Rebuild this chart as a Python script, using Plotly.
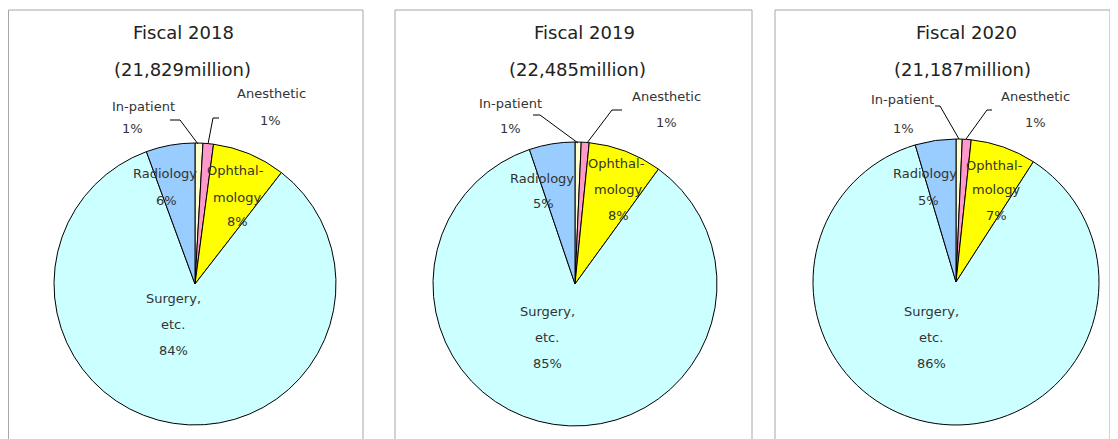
import plotly.graph_objects as go

# The page has an 8px body margin, so the figure is 1110x431 and positions are given in page pixels
OFF = 8
W, H = 1110, 431

categories = ["In-patient", "Anesthetic", "Ophthalmology", "Surgery, etc.", "Radiology"]
years = ["Fiscal 2018", "Fiscal 2019", "Fiscal 2020"]
totals = ["(21,829million)", "(22,485million)", "(21,187million)"]
values_2018 = [0.9, 1.2, 8.4, 83.9, 5.6]
values_2019 = [0.7, 0.9, 8.4, 84.8, 5.2]
values_2020 = [0.7, 1.0, 7.4, 86.3, 4.6]
all_values = [values_2018, values_2019, values_2020]
colors = ["#FFFFCC", "#FF99CC", "#FFFF00", "#CCFFFF", "#99CCFF"]


def px(x):
    return (x - OFF) / W


def py(y):
    return 1 - (y - OFF) / H


# pie geometry (page pixels)
pies = [dict(cx=195, cy=284, r=141), dict(cx=575, cy=284, r=142), dict(cx=956, cy=282, r=143)]
panels = [(8.5, 363), (395, 752), (775, 1110)]
title_x = [183, 584, 967]
total_x = [182, 577, 962]

label_pos = [
    dict(inp=(143, 107, 132, 128), ane=(271, 93, 270, 120), rad=(165, 173, 166, 201),
         oph=(237, 170, 197, 221), sur=(173, 298)),
    dict(inp=(510, 103, 510, 128), ane=(666, 96, 666, 122), rad=(542, 178, 543, 203),
         oph=(618, 163, 190, 215), sur=(547, 311)),
    dict(inp=(902, 100, 903, 128), ane=(1035, 96, 1035, 122), rad=(925, 174, 928, 200),
         oph=(996, 165, 190, 215), sur=(931, 311)),
]
leaders = [
    [[(170, 120), (180, 120), (198, 144)], [(219, 118), (213, 118), (208, 144)]],
    [[(533, 115), (540, 115), (578, 143)], [(622, 110), (612, 110), (587, 143)]],
    [[(935, 106), (940, 106), (959, 139)], [(992, 110), (987, 110), (966, 139)]],
]

fig = go.Figure()
shapes = []
annotations = []
FAM = "DejaVu Sans, Verdana, sans-serif"
font_txt = dict(family=FAM, size=13, color="#333333")

for i, (vals, geo) in enumerate(zip(all_values, pies)):
    cx, cy, r = geo["cx"], geo["cy"], geo["r"]
    fig.add_trace(go.Pie(
        labels=categories, values=vals, sort=False, direction="clockwise", rotation=0,
        marker=dict(colors=colors, line=dict(color="#000000", width=1)),
        textinfo="none", hoverinfo="label+percent", showlegend=False,
        domain=dict(x=[px(cx - r), px(cx + r)], y=[py(cy + r), py(cy - r)]),
    ))
    x0, x1 = panels[i]
    shapes.append(dict(type="rect", xref="paper", yref="paper", x0=px(x0), x1=px(x1),
                       y0=-0.2, y1=py(10), line=dict(color="#A6A6A6", width=1),
                       fillcolor="rgba(0,0,0,0)", layer="below"))
    annotations.append(dict(x=px(title_x[i]), y=py(32), xref="paper", yref="paper", text=years[i],
                            showarrow=False, font=dict(family=FAM, size=18, color="#222222"),
                            xanchor="center", yanchor="middle"))
    annotations.append(dict(x=px(total_x[i]), y=py(70), xref="paper", yref="paper", text=totals[i],
                            showarrow=False, font=dict(family=FAM, size=18, color="#222222"),
                            xanchor="center", yanchor="middle"))
    tot = sum(vals)
    pct = [f"{round(v / tot * 100)}%" for v in vals]
    lp = label_pos[i]

    def add(x, y, t):
        annotations.append(dict(x=px(x), y=py(y), xref="paper", yref="paper", text=t, showarrow=False,
                                font=font_txt, xanchor="center", yanchor="middle"))

    add(lp["inp"][0], lp["inp"][1], "In-patient")
    add(lp["inp"][2], lp["inp"][3], pct[0])
    add(lp["ane"][0], lp["ane"][1], "Anesthetic")
    add(lp["ane"][2], lp["ane"][3], pct[1])
    add(lp["rad"][0], lp["rad"][1], "Radiology")
    add(lp["rad"][2], lp["rad"][3], pct[4])
    ox, oy1, oy2, oy3 = lp["oph"]
    add(ox - 2, oy1, "Ophthal-")
    add(ox, oy2, "mology")
    add(ox, oy3, pct[2])
    sx, sy = lp["sur"]
    add(sx, sy, "Surgery,")
    add(sx, sy + 26, "etc.")
    add(sx, sy + 52, pct[3])
    for pts in leaders[i]:
        path = "M " + " L ".join(f"{px(x)},{py(y)}" for x, y in pts)
        shapes.append(dict(type="path", xref="paper", yref="paper", path=path,
                           line=dict(color="#000000", width=1)))

# Page heading, cut off at the top edge in the reference
annotations.append(dict(x=px(-6), y=py(10), xref="paper", yref="paper",
                        text="<b>Sales composition by treatment category</b>", showarrow=False,
                        font=dict(family=FAM, size=17, color="#000000"),
                        xanchor="left", yanchor="bottom"))

fig.update_layout(
    width=W, height=H, margin=dict(l=0, r=0, t=0, b=0),
    paper_bgcolor="#FFFFFF", plot_bgcolor="#FFFFFF",
    shapes=shapes, annotations=annotations,
)

fig.write_html("out.html")
